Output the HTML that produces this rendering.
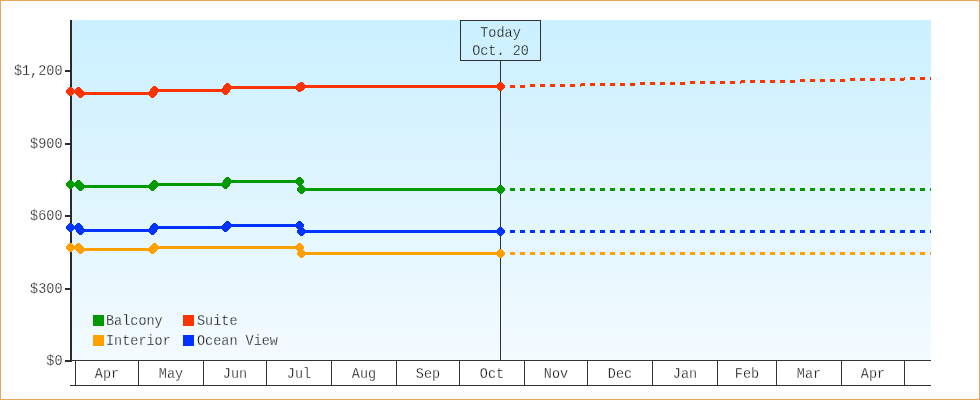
<!DOCTYPE html>
<html><head><meta charset="utf-8"><style>
html,body{margin:0;padding:0;background:#fff;}
svg{display:block;will-change:transform;}
</style></head><body><svg width="980" height="400" viewBox="0 0 980 400"><rect x="0" y="0" width="980" height="400" fill="#fff"/><rect x="72" y="20" width="859" height="1" fill="#cbf0ff"/><rect x="72" y="21" width="859" height="1" fill="#cbf0ff"/><rect x="72" y="22" width="859" height="1" fill="#cbf0ff"/><rect x="72" y="23" width="859" height="1" fill="#cbf0ff"/><rect x="72" y="24" width="859" height="1" fill="#cbf0ff"/><rect x="72" y="25" width="859" height="1" fill="#ccf0ff"/><rect x="72" y="26" width="859" height="1" fill="#ccf0ff"/><rect x="72" y="27" width="859" height="1" fill="#ccf0ff"/><rect x="72" y="28" width="859" height="1" fill="#ccf0ff"/><rect x="72" y="29" width="859" height="1" fill="#ccf0ff"/><rect x="72" y="30" width="859" height="1" fill="#ccf0ff"/><rect x="72" y="31" width="859" height="1" fill="#ccf0ff"/><rect x="72" y="32" width="859" height="1" fill="#ccf0ff"/><rect x="72" y="33" width="859" height="1" fill="#cdf0ff"/><rect x="72" y="34" width="859" height="1" fill="#cdf0ff"/><rect x="72" y="35" width="859" height="1" fill="#cdf0ff"/><rect x="72" y="36" width="859" height="1" fill="#cdf1ff"/><rect x="72" y="37" width="859" height="1" fill="#cdf1ff"/><rect x="72" y="38" width="859" height="1" fill="#cdf1ff"/><rect x="72" y="39" width="859" height="1" fill="#cdf1ff"/><rect x="72" y="40" width="859" height="1" fill="#cdf1ff"/><rect x="72" y="41" width="859" height="1" fill="#cdf1ff"/><rect x="72" y="42" width="859" height="1" fill="#cef1ff"/><rect x="72" y="43" width="859" height="1" fill="#cef1ff"/><rect x="72" y="44" width="859" height="1" fill="#cef1ff"/><rect x="72" y="45" width="859" height="1" fill="#cef1ff"/><rect x="72" y="46" width="859" height="1" fill="#cef1ff"/><rect x="72" y="47" width="859" height="1" fill="#cef1ff"/><rect x="72" y="48" width="859" height="1" fill="#cef1ff"/><rect x="72" y="49" width="859" height="1" fill="#cef1ff"/><rect x="72" y="50" width="859" height="1" fill="#cff1ff"/><rect x="72" y="51" width="859" height="1" fill="#cff1ff"/><rect x="72" y="52" width="859" height="1" fill="#cff1ff"/><rect x="72" y="53" width="859" height="1" fill="#cff1ff"/><rect x="72" y="54" width="859" height="1" fill="#cff1ff"/><rect x="72" y="55" width="859" height="1" fill="#cff1ff"/><rect x="72" y="56" width="859" height="1" fill="#cff1ff"/><rect x="72" y="57" width="859" height="1" fill="#cff1ff"/><rect x="72" y="58" width="859" height="1" fill="#cff1ff"/><rect x="72" y="59" width="859" height="1" fill="#d0f1ff"/><rect x="72" y="60" width="859" height="1" fill="#d0f1ff"/><rect x="72" y="61" width="859" height="1" fill="#d0f1ff"/><rect x="72" y="62" width="859" height="1" fill="#d0f1ff"/><rect x="72" y="63" width="859" height="1" fill="#d0f1ff"/><rect x="72" y="64" width="859" height="1" fill="#d0f1ff"/><rect x="72" y="65" width="859" height="1" fill="#d0f1ff"/><rect x="72" y="66" width="859" height="1" fill="#d0f1ff"/><rect x="72" y="67" width="859" height="1" fill="#d1f2ff"/><rect x="72" y="68" width="859" height="1" fill="#d1f2ff"/><rect x="72" y="69" width="859" height="1" fill="#d1f2ff"/><rect x="72" y="70" width="859" height="1" fill="#d1f2ff"/><rect x="72" y="71" width="859" height="1" fill="#d1f2ff"/><rect x="72" y="72" width="859" height="1" fill="#d1f2ff"/><rect x="72" y="73" width="859" height="1" fill="#d1f2ff"/><rect x="72" y="74" width="859" height="1" fill="#d1f2ff"/><rect x="72" y="75" width="859" height="1" fill="#d1f2ff"/><rect x="72" y="76" width="859" height="1" fill="#d2f2ff"/><rect x="72" y="77" width="859" height="1" fill="#d2f2ff"/><rect x="72" y="78" width="859" height="1" fill="#d2f2ff"/><rect x="72" y="79" width="859" height="1" fill="#d2f2ff"/><rect x="72" y="80" width="859" height="1" fill="#d2f2ff"/><rect x="72" y="81" width="859" height="1" fill="#d2f2ff"/><rect x="72" y="82" width="859" height="1" fill="#d2f2ff"/><rect x="72" y="83" width="859" height="1" fill="#d2f2ff"/><rect x="72" y="84" width="859" height="1" fill="#d3f2ff"/><rect x="72" y="85" width="859" height="1" fill="#d3f2ff"/><rect x="72" y="86" width="859" height="1" fill="#d3f2ff"/><rect x="72" y="87" width="859" height="1" fill="#d3f2ff"/><rect x="72" y="88" width="859" height="1" fill="#d3f2ff"/><rect x="72" y="89" width="859" height="1" fill="#d3f2ff"/><rect x="72" y="90" width="859" height="1" fill="#d3f2ff"/><rect x="72" y="91" width="859" height="1" fill="#d3f2ff"/><rect x="72" y="92" width="859" height="1" fill="#d3f2ff"/><rect x="72" y="93" width="859" height="1" fill="#d4f2ff"/><rect x="72" y="94" width="859" height="1" fill="#d4f2ff"/><rect x="72" y="95" width="859" height="1" fill="#d4f2ff"/><rect x="72" y="96" width="859" height="1" fill="#d4f2ff"/><rect x="72" y="97" width="859" height="1" fill="#d4f2ff"/><rect x="72" y="98" width="859" height="1" fill="#d4f3ff"/><rect x="72" y="99" width="859" height="1" fill="#d4f3ff"/><rect x="72" y="100" width="859" height="1" fill="#d4f3ff"/><rect x="72" y="101" width="859" height="1" fill="#d5f3ff"/><rect x="72" y="102" width="859" height="1" fill="#d5f3ff"/><rect x="72" y="103" width="859" height="1" fill="#d5f3ff"/><rect x="72" y="104" width="859" height="1" fill="#d5f3ff"/><rect x="72" y="105" width="859" height="1" fill="#d5f3ff"/><rect x="72" y="106" width="859" height="1" fill="#d5f3ff"/><rect x="72" y="107" width="859" height="1" fill="#d5f3ff"/><rect x="72" y="108" width="859" height="1" fill="#d5f3ff"/><rect x="72" y="109" width="859" height="1" fill="#d6f3ff"/><rect x="72" y="110" width="859" height="1" fill="#d6f3ff"/><rect x="72" y="111" width="859" height="1" fill="#d6f3ff"/><rect x="72" y="112" width="859" height="1" fill="#d6f3ff"/><rect x="72" y="113" width="859" height="1" fill="#d6f3ff"/><rect x="72" y="114" width="859" height="1" fill="#d6f3ff"/><rect x="72" y="115" width="859" height="1" fill="#d6f3ff"/><rect x="72" y="116" width="859" height="1" fill="#d6f3ff"/><rect x="72" y="117" width="859" height="1" fill="#d6f3ff"/><rect x="72" y="118" width="859" height="1" fill="#d7f3ff"/><rect x="72" y="119" width="859" height="1" fill="#d7f3ff"/><rect x="72" y="120" width="859" height="1" fill="#d7f3ff"/><rect x="72" y="121" width="859" height="1" fill="#d7f3ff"/><rect x="72" y="122" width="859" height="1" fill="#d7f3ff"/><rect x="72" y="123" width="859" height="1" fill="#d7f3ff"/><rect x="72" y="124" width="859" height="1" fill="#d7f3ff"/><rect x="72" y="125" width="859" height="1" fill="#d7f3ff"/><rect x="72" y="126" width="859" height="1" fill="#d8f3ff"/><rect x="72" y="127" width="859" height="1" fill="#d8f3ff"/><rect x="72" y="128" width="859" height="1" fill="#d8f4ff"/><rect x="72" y="129" width="859" height="1" fill="#d8f4ff"/><rect x="72" y="130" width="859" height="1" fill="#d8f4ff"/><rect x="72" y="131" width="859" height="1" fill="#d8f4ff"/><rect x="72" y="132" width="859" height="1" fill="#d8f4ff"/><rect x="72" y="133" width="859" height="1" fill="#d8f4ff"/><rect x="72" y="134" width="859" height="1" fill="#d8f4ff"/><rect x="72" y="135" width="859" height="1" fill="#d9f4ff"/><rect x="72" y="136" width="859" height="1" fill="#d9f4ff"/><rect x="72" y="137" width="859" height="1" fill="#d9f4ff"/><rect x="72" y="138" width="859" height="1" fill="#d9f4ff"/><rect x="72" y="139" width="859" height="1" fill="#d9f4ff"/><rect x="72" y="140" width="859" height="1" fill="#d9f4ff"/><rect x="72" y="141" width="859" height="1" fill="#d9f4ff"/><rect x="72" y="142" width="859" height="1" fill="#d9f4ff"/><rect x="72" y="143" width="859" height="1" fill="#daf4ff"/><rect x="72" y="144" width="859" height="1" fill="#daf4ff"/><rect x="72" y="145" width="859" height="1" fill="#daf4ff"/><rect x="72" y="146" width="859" height="1" fill="#daf4ff"/><rect x="72" y="147" width="859" height="1" fill="#daf4ff"/><rect x="72" y="148" width="859" height="1" fill="#daf4ff"/><rect x="72" y="149" width="859" height="1" fill="#daf4ff"/><rect x="72" y="150" width="859" height="1" fill="#daf4ff"/><rect x="72" y="151" width="859" height="1" fill="#daf4ff"/><rect x="72" y="152" width="859" height="1" fill="#dbf4ff"/><rect x="72" y="153" width="859" height="1" fill="#dbf4ff"/><rect x="72" y="154" width="859" height="1" fill="#dbf4ff"/><rect x="72" y="155" width="859" height="1" fill="#dbf4ff"/><rect x="72" y="156" width="859" height="1" fill="#dbf4ff"/><rect x="72" y="157" width="859" height="1" fill="#dbf4ff"/><rect x="72" y="158" width="859" height="1" fill="#dbf4ff"/><rect x="72" y="159" width="859" height="1" fill="#dbf5ff"/><rect x="72" y="160" width="859" height="1" fill="#dcf5ff"/><rect x="72" y="161" width="859" height="1" fill="#dcf5ff"/><rect x="72" y="162" width="859" height="1" fill="#dcf5ff"/><rect x="72" y="163" width="859" height="1" fill="#dcf5ff"/><rect x="72" y="164" width="859" height="1" fill="#dcf5ff"/><rect x="72" y="165" width="859" height="1" fill="#dcf5ff"/><rect x="72" y="166" width="859" height="1" fill="#dcf5ff"/><rect x="72" y="167" width="859" height="1" fill="#dcf5ff"/><rect x="72" y="168" width="859" height="1" fill="#dcf5ff"/><rect x="72" y="169" width="859" height="1" fill="#ddf5ff"/><rect x="72" y="170" width="859" height="1" fill="#ddf5ff"/><rect x="72" y="171" width="859" height="1" fill="#ddf5ff"/><rect x="72" y="172" width="859" height="1" fill="#ddf5ff"/><rect x="72" y="173" width="859" height="1" fill="#ddf5ff"/><rect x="72" y="174" width="859" height="1" fill="#ddf5ff"/><rect x="72" y="175" width="859" height="1" fill="#ddf5ff"/><rect x="72" y="176" width="859" height="1" fill="#ddf5ff"/><rect x="72" y="177" width="859" height="1" fill="#def5ff"/><rect x="72" y="178" width="859" height="1" fill="#def5ff"/><rect x="72" y="179" width="859" height="1" fill="#def5ff"/><rect x="72" y="180" width="859" height="1" fill="#def5ff"/><rect x="72" y="181" width="859" height="1" fill="#def5ff"/><rect x="72" y="182" width="859" height="1" fill="#def5ff"/><rect x="72" y="183" width="859" height="1" fill="#def5ff"/><rect x="72" y="184" width="859" height="1" fill="#def5ff"/><rect x="72" y="185" width="859" height="1" fill="#def5ff"/><rect x="72" y="186" width="859" height="1" fill="#dff5ff"/><rect x="72" y="187" width="859" height="1" fill="#dff5ff"/><rect x="72" y="188" width="859" height="1" fill="#dff5ff"/><rect x="72" y="189" width="859" height="1" fill="#dff5ff"/><rect x="72" y="190" width="859" height="1" fill="#dff6ff"/><rect x="72" y="191" width="859" height="1" fill="#dff6ff"/><rect x="72" y="192" width="859" height="1" fill="#dff6ff"/><rect x="72" y="193" width="859" height="1" fill="#dff6ff"/><rect x="72" y="194" width="859" height="1" fill="#e0f6ff"/><rect x="72" y="195" width="859" height="1" fill="#e0f6ff"/><rect x="72" y="196" width="859" height="1" fill="#e0f6ff"/><rect x="72" y="197" width="859" height="1" fill="#e0f6ff"/><rect x="72" y="198" width="859" height="1" fill="#e0f6ff"/><rect x="72" y="199" width="859" height="1" fill="#e0f6ff"/><rect x="72" y="200" width="859" height="1" fill="#e0f6ff"/><rect x="72" y="201" width="859" height="1" fill="#e0f6ff"/><rect x="72" y="202" width="859" height="1" fill="#e0f6ff"/><rect x="72" y="203" width="859" height="1" fill="#e1f6ff"/><rect x="72" y="204" width="859" height="1" fill="#e1f6ff"/><rect x="72" y="205" width="859" height="1" fill="#e1f6ff"/><rect x="72" y="206" width="859" height="1" fill="#e1f6ff"/><rect x="72" y="207" width="859" height="1" fill="#e1f6ff"/><rect x="72" y="208" width="859" height="1" fill="#e1f6ff"/><rect x="72" y="209" width="859" height="1" fill="#e1f6ff"/><rect x="72" y="210" width="859" height="1" fill="#e1f6ff"/><rect x="72" y="211" width="859" height="1" fill="#e2f6ff"/><rect x="72" y="212" width="859" height="1" fill="#e2f6ff"/><rect x="72" y="213" width="859" height="1" fill="#e2f6ff"/><rect x="72" y="214" width="859" height="1" fill="#e2f6ff"/><rect x="72" y="215" width="859" height="1" fill="#e2f6ff"/><rect x="72" y="216" width="859" height="1" fill="#e2f6ff"/><rect x="72" y="217" width="859" height="1" fill="#e2f6ff"/><rect x="72" y="218" width="859" height="1" fill="#e2f6ff"/><rect x="72" y="219" width="859" height="1" fill="#e2f6ff"/><rect x="72" y="220" width="859" height="1" fill="#e3f6ff"/><rect x="72" y="221" width="859" height="1" fill="#e3f7ff"/><rect x="72" y="222" width="859" height="1" fill="#e3f7ff"/><rect x="72" y="223" width="859" height="1" fill="#e3f7ff"/><rect x="72" y="224" width="859" height="1" fill="#e3f7ff"/><rect x="72" y="225" width="859" height="1" fill="#e3f7ff"/><rect x="72" y="226" width="859" height="1" fill="#e3f7ff"/><rect x="72" y="227" width="859" height="1" fill="#e3f7ff"/><rect x="72" y="228" width="859" height="1" fill="#e4f7ff"/><rect x="72" y="229" width="859" height="1" fill="#e4f7ff"/><rect x="72" y="230" width="859" height="1" fill="#e4f7ff"/><rect x="72" y="231" width="859" height="1" fill="#e4f7ff"/><rect x="72" y="232" width="859" height="1" fill="#e4f7ff"/><rect x="72" y="233" width="859" height="1" fill="#e4f7ff"/><rect x="72" y="234" width="859" height="1" fill="#e4f7ff"/><rect x="72" y="235" width="859" height="1" fill="#e4f7ff"/><rect x="72" y="236" width="859" height="1" fill="#e4f7ff"/><rect x="72" y="237" width="859" height="1" fill="#e5f7ff"/><rect x="72" y="238" width="859" height="1" fill="#e5f7ff"/><rect x="72" y="239" width="859" height="1" fill="#e5f7ff"/><rect x="72" y="240" width="859" height="1" fill="#e5f7ff"/><rect x="72" y="241" width="859" height="1" fill="#e5f7ff"/><rect x="72" y="242" width="859" height="1" fill="#e5f7ff"/><rect x="72" y="243" width="859" height="1" fill="#e5f7ff"/><rect x="72" y="244" width="859" height="1" fill="#e5f7ff"/><rect x="72" y="245" width="859" height="1" fill="#e6f7ff"/><rect x="72" y="246" width="859" height="1" fill="#e6f7ff"/><rect x="72" y="247" width="859" height="1" fill="#e6f7ff"/><rect x="72" y="248" width="859" height="1" fill="#e6f7ff"/><rect x="72" y="249" width="859" height="1" fill="#e6f7ff"/><rect x="72" y="250" width="859" height="1" fill="#e6f7ff"/><rect x="72" y="251" width="859" height="1" fill="#e6f7ff"/><rect x="72" y="252" width="859" height="1" fill="#e6f8ff"/><rect x="72" y="253" width="859" height="1" fill="#e6f8ff"/><rect x="72" y="254" width="859" height="1" fill="#e7f8ff"/><rect x="72" y="255" width="859" height="1" fill="#e7f8ff"/><rect x="72" y="256" width="859" height="1" fill="#e7f8ff"/><rect x="72" y="257" width="859" height="1" fill="#e7f8ff"/><rect x="72" y="258" width="859" height="1" fill="#e7f8ff"/><rect x="72" y="259" width="859" height="1" fill="#e7f8ff"/><rect x="72" y="260" width="859" height="1" fill="#e7f8ff"/><rect x="72" y="261" width="859" height="1" fill="#e7f8ff"/><rect x="72" y="262" width="859" height="1" fill="#e8f8ff"/><rect x="72" y="263" width="859" height="1" fill="#e8f8ff"/><rect x="72" y="264" width="859" height="1" fill="#e8f8ff"/><rect x="72" y="265" width="859" height="1" fill="#e8f8ff"/><rect x="72" y="266" width="859" height="1" fill="#e8f8ff"/><rect x="72" y="267" width="859" height="1" fill="#e8f8ff"/><rect x="72" y="268" width="859" height="1" fill="#e8f8ff"/><rect x="72" y="269" width="859" height="1" fill="#e8f8ff"/><rect x="72" y="270" width="859" height="1" fill="#e8f8ff"/><rect x="72" y="271" width="859" height="1" fill="#e9f8ff"/><rect x="72" y="272" width="859" height="1" fill="#e9f8ff"/><rect x="72" y="273" width="859" height="1" fill="#e9f8ff"/><rect x="72" y="274" width="859" height="1" fill="#e9f8ff"/><rect x="72" y="275" width="859" height="1" fill="#e9f8ff"/><rect x="72" y="276" width="859" height="1" fill="#e9f8ff"/><rect x="72" y="277" width="859" height="1" fill="#e9f8ff"/><rect x="72" y="278" width="859" height="1" fill="#e9f8ff"/><rect x="72" y="279" width="859" height="1" fill="#eaf8ff"/><rect x="72" y="280" width="859" height="1" fill="#eaf8ff"/><rect x="72" y="281" width="859" height="1" fill="#eaf8ff"/><rect x="72" y="282" width="859" height="1" fill="#eaf9ff"/><rect x="72" y="283" width="859" height="1" fill="#eaf9ff"/><rect x="72" y="284" width="859" height="1" fill="#eaf9ff"/><rect x="72" y="285" width="859" height="1" fill="#eaf9ff"/><rect x="72" y="286" width="859" height="1" fill="#eaf9ff"/><rect x="72" y="287" width="859" height="1" fill="#ebf9ff"/><rect x="72" y="288" width="859" height="1" fill="#ebf9ff"/><rect x="72" y="289" width="859" height="1" fill="#ebf9ff"/><rect x="72" y="290" width="859" height="1" fill="#ebf9ff"/><rect x="72" y="291" width="859" height="1" fill="#ebf9ff"/><rect x="72" y="292" width="859" height="1" fill="#ebf9ff"/><rect x="72" y="293" width="859" height="1" fill="#ebf9ff"/><rect x="72" y="294" width="859" height="1" fill="#ebf9ff"/><rect x="72" y="295" width="859" height="1" fill="#ebf9ff"/><rect x="72" y="296" width="859" height="1" fill="#ecf9ff"/><rect x="72" y="297" width="859" height="1" fill="#ecf9ff"/><rect x="72" y="298" width="859" height="1" fill="#ecf9ff"/><rect x="72" y="299" width="859" height="1" fill="#ecf9ff"/><rect x="72" y="300" width="859" height="1" fill="#ecf9ff"/><rect x="72" y="301" width="859" height="1" fill="#ecf9ff"/><rect x="72" y="302" width="859" height="1" fill="#ecf9ff"/><rect x="72" y="303" width="859" height="1" fill="#ecf9ff"/><rect x="72" y="304" width="859" height="1" fill="#edf9ff"/><rect x="72" y="305" width="859" height="1" fill="#edf9ff"/><rect x="72" y="306" width="859" height="1" fill="#edf9ff"/><rect x="72" y="307" width="859" height="1" fill="#edf9ff"/><rect x="72" y="308" width="859" height="1" fill="#edf9ff"/><rect x="72" y="309" width="859" height="1" fill="#edf9ff"/><rect x="72" y="310" width="859" height="1" fill="#edf9ff"/><rect x="72" y="311" width="859" height="1" fill="#edf9ff"/><rect x="72" y="312" width="859" height="1" fill="#edf9ff"/><rect x="72" y="313" width="859" height="1" fill="#eefaff"/><rect x="72" y="314" width="859" height="1" fill="#eefaff"/><rect x="72" y="315" width="859" height="1" fill="#eefaff"/><rect x="72" y="316" width="859" height="1" fill="#eefaff"/><rect x="72" y="317" width="859" height="1" fill="#eefaff"/><rect x="72" y="318" width="859" height="1" fill="#eefaff"/><rect x="72" y="319" width="859" height="1" fill="#eefaff"/><rect x="72" y="320" width="859" height="1" fill="#eefaff"/><rect x="72" y="321" width="859" height="1" fill="#effaff"/><rect x="72" y="322" width="859" height="1" fill="#effaff"/><rect x="72" y="323" width="859" height="1" fill="#effaff"/><rect x="72" y="324" width="859" height="1" fill="#effaff"/><rect x="72" y="325" width="859" height="1" fill="#effaff"/><rect x="72" y="326" width="859" height="1" fill="#effaff"/><rect x="72" y="327" width="859" height="1" fill="#effaff"/><rect x="72" y="328" width="859" height="1" fill="#effaff"/><rect x="72" y="329" width="859" height="1" fill="#effaff"/><rect x="72" y="330" width="859" height="1" fill="#f0faff"/><rect x="72" y="331" width="859" height="1" fill="#f0faff"/><rect x="72" y="332" width="859" height="1" fill="#f0faff"/><rect x="72" y="333" width="859" height="1" fill="#f0faff"/><rect x="72" y="334" width="859" height="1" fill="#f0faff"/><rect x="72" y="335" width="859" height="1" fill="#f0faff"/><rect x="72" y="336" width="859" height="1" fill="#f0faff"/><rect x="72" y="337" width="859" height="1" fill="#f0faff"/><rect x="72" y="338" width="859" height="1" fill="#f1faff"/><rect x="72" y="339" width="859" height="1" fill="#f1faff"/><rect x="72" y="340" width="859" height="1" fill="#f1faff"/><rect x="72" y="341" width="859" height="1" fill="#f1faff"/><rect x="72" y="342" width="859" height="1" fill="#f1faff"/><rect x="72" y="343" width="859" height="1" fill="#f1faff"/><rect x="72" y="344" width="859" height="1" fill="#f1fbff"/><rect x="72" y="345" width="859" height="1" fill="#f1fbff"/><rect x="72" y="346" width="859" height="1" fill="#f1fbff"/><rect x="72" y="347" width="859" height="1" fill="#f2fbff"/><rect x="72" y="348" width="859" height="1" fill="#f2fbff"/><rect x="72" y="349" width="859" height="1" fill="#f2fbff"/><rect x="72" y="350" width="859" height="1" fill="#f2fbff"/><rect x="72" y="351" width="859" height="1" fill="#f2fbff"/><rect x="72" y="352" width="859" height="1" fill="#f2fbff"/><rect x="72" y="353" width="859" height="1" fill="#f2fbff"/><rect x="72" y="354" width="859" height="1" fill="#f2fbff"/><rect x="72" y="355" width="859" height="1" fill="#f3fbff"/><rect x="72" y="356" width="859" height="1" fill="#f3fbff"/><rect x="72" y="357" width="859" height="1" fill="#f3fbff"/><rect x="72" y="358" width="859" height="1" fill="#f3fbff"/><rect x="72" y="359" width="859" height="1" fill="#f3fbff"/><rect x="500" y="60" width="1" height="300" fill="#333"/><rect x="70" y="20" width="2" height="342" fill="#2b2b2b"/><path d="M70.50 91.50 L78.50 91.50 L80.50 93.50 L152.50 93.50 L154.50 90.50 L225.50 90.50 L227.50 87.50 L299.50 87.50 L301.50 86.50 L500.50 86.50" fill="none" stroke="#ff3300" stroke-width="3" stroke-linejoin="round"/><rect x="510" y="85" width="5" height="3" fill="#ff3300"/><rect x="520" y="85" width="5" height="3" fill="#ff3300"/><rect x="530" y="84" width="5" height="3" fill="#ff3300"/><rect x="540" y="84" width="5" height="3" fill="#ff3300"/><rect x="550" y="84" width="5" height="3" fill="#ff3300"/><rect x="560" y="84" width="5" height="3" fill="#ff3300"/><rect x="570" y="84" width="5" height="3" fill="#ff3300"/><rect x="580" y="84" width="1" height="3" fill="#ff3300"/><rect x="581" y="83" width="4" height="3" fill="#ff3300"/><rect x="590" y="83" width="5" height="3" fill="#ff3300"/><rect x="600" y="83" width="5" height="3" fill="#ff3300"/><rect x="610" y="83" width="5" height="3" fill="#ff3300"/><rect x="620" y="83" width="5" height="3" fill="#ff3300"/><rect x="630" y="83" width="5" height="3" fill="#ff3300"/><rect x="640" y="82" width="5" height="3" fill="#ff3300"/><rect x="650" y="82" width="5" height="3" fill="#ff3300"/><rect x="660" y="82" width="5" height="3" fill="#ff3300"/><rect x="670" y="82" width="5" height="3" fill="#ff3300"/><rect x="680" y="82" width="5" height="3" fill="#ff3300"/><rect x="690" y="81" width="5" height="3" fill="#ff3300"/><rect x="700" y="81" width="5" height="3" fill="#ff3300"/><rect x="710" y="81" width="5" height="3" fill="#ff3300"/><rect x="720" y="81" width="5" height="3" fill="#ff3300"/><rect x="730" y="81" width="5" height="3" fill="#ff3300"/><rect x="740" y="81" width="1" height="3" fill="#ff3300"/><rect x="741" y="80" width="4" height="3" fill="#ff3300"/><rect x="750" y="80" width="5" height="3" fill="#ff3300"/><rect x="760" y="80" width="5" height="3" fill="#ff3300"/><rect x="770" y="80" width="5" height="3" fill="#ff3300"/><rect x="780" y="80" width="5" height="3" fill="#ff3300"/><rect x="790" y="80" width="5" height="3" fill="#ff3300"/><rect x="800" y="79" width="5" height="3" fill="#ff3300"/><rect x="810" y="79" width="5" height="3" fill="#ff3300"/><rect x="820" y="79" width="5" height="3" fill="#ff3300"/><rect x="830" y="79" width="5" height="3" fill="#ff3300"/><rect x="840" y="79" width="5" height="3" fill="#ff3300"/><rect x="850" y="78" width="5" height="3" fill="#ff3300"/><rect x="860" y="78" width="5" height="3" fill="#ff3300"/><rect x="870" y="78" width="5" height="3" fill="#ff3300"/><rect x="880" y="78" width="5" height="3" fill="#ff3300"/><rect x="890" y="78" width="5" height="3" fill="#ff3300"/><rect x="900" y="78" width="4" height="3" fill="#ff3300"/><rect x="904" y="77" width="1" height="3" fill="#ff3300"/><rect x="910" y="77" width="5" height="3" fill="#ff3300"/><rect x="920" y="77" width="5" height="3" fill="#ff3300"/><rect x="930" y="77" width="1" height="3" fill="#ff3300"/><path d="M70.50 184.50 L78.50 184.50 L80.50 186.50 L152.50 186.50 L154.50 184.50 L225.50 184.50 L227.50 181.50 L299.50 181.50 L301.50 189.50 L500.50 189.50" fill="none" stroke="#009900" stroke-width="3" stroke-linejoin="round"/><rect x="510" y="188" width="5" height="3" fill="#009900"/><rect x="520" y="188" width="5" height="3" fill="#009900"/><rect x="530" y="188" width="5" height="3" fill="#009900"/><rect x="540" y="188" width="5" height="3" fill="#009900"/><rect x="550" y="188" width="5" height="3" fill="#009900"/><rect x="560" y="188" width="5" height="3" fill="#009900"/><rect x="570" y="188" width="5" height="3" fill="#009900"/><rect x="580" y="188" width="5" height="3" fill="#009900"/><rect x="590" y="188" width="5" height="3" fill="#009900"/><rect x="600" y="188" width="5" height="3" fill="#009900"/><rect x="610" y="188" width="5" height="3" fill="#009900"/><rect x="620" y="188" width="5" height="3" fill="#009900"/><rect x="630" y="188" width="5" height="3" fill="#009900"/><rect x="640" y="188" width="5" height="3" fill="#009900"/><rect x="650" y="188" width="5" height="3" fill="#009900"/><rect x="660" y="188" width="5" height="3" fill="#009900"/><rect x="670" y="188" width="5" height="3" fill="#009900"/><rect x="680" y="188" width="5" height="3" fill="#009900"/><rect x="690" y="188" width="5" height="3" fill="#009900"/><rect x="700" y="188" width="5" height="3" fill="#009900"/><rect x="710" y="188" width="5" height="3" fill="#009900"/><rect x="720" y="188" width="5" height="3" fill="#009900"/><rect x="730" y="188" width="5" height="3" fill="#009900"/><rect x="740" y="188" width="5" height="3" fill="#009900"/><rect x="750" y="188" width="5" height="3" fill="#009900"/><rect x="760" y="188" width="5" height="3" fill="#009900"/><rect x="770" y="188" width="5" height="3" fill="#009900"/><rect x="780" y="188" width="5" height="3" fill="#009900"/><rect x="790" y="188" width="5" height="3" fill="#009900"/><rect x="800" y="188" width="5" height="3" fill="#009900"/><rect x="810" y="188" width="5" height="3" fill="#009900"/><rect x="820" y="188" width="5" height="3" fill="#009900"/><rect x="830" y="188" width="5" height="3" fill="#009900"/><rect x="840" y="188" width="5" height="3" fill="#009900"/><rect x="850" y="188" width="5" height="3" fill="#009900"/><rect x="860" y="188" width="5" height="3" fill="#009900"/><rect x="870" y="188" width="5" height="3" fill="#009900"/><rect x="880" y="188" width="5" height="3" fill="#009900"/><rect x="890" y="188" width="5" height="3" fill="#009900"/><rect x="900" y="188" width="5" height="3" fill="#009900"/><rect x="910" y="188" width="5" height="3" fill="#009900"/><rect x="920" y="188" width="5" height="3" fill="#009900"/><rect x="930" y="188" width="1" height="3" fill="#009900"/><path d="M70.50 227.50 L78.50 227.50 L80.50 230.50 L152.50 230.50 L154.50 227.50 L225.50 227.50 L227.50 225.50 L299.50 225.50 L301.50 231.50 L500.50 231.50" fill="none" stroke="#0033ff" stroke-width="3" stroke-linejoin="round"/><rect x="510" y="230" width="5" height="3" fill="#0033ff"/><rect x="520" y="230" width="5" height="3" fill="#0033ff"/><rect x="530" y="230" width="5" height="3" fill="#0033ff"/><rect x="540" y="230" width="5" height="3" fill="#0033ff"/><rect x="550" y="230" width="5" height="3" fill="#0033ff"/><rect x="560" y="230" width="5" height="3" fill="#0033ff"/><rect x="570" y="230" width="5" height="3" fill="#0033ff"/><rect x="580" y="230" width="5" height="3" fill="#0033ff"/><rect x="590" y="230" width="5" height="3" fill="#0033ff"/><rect x="600" y="230" width="5" height="3" fill="#0033ff"/><rect x="610" y="230" width="5" height="3" fill="#0033ff"/><rect x="620" y="230" width="5" height="3" fill="#0033ff"/><rect x="630" y="230" width="5" height="3" fill="#0033ff"/><rect x="640" y="230" width="5" height="3" fill="#0033ff"/><rect x="650" y="230" width="5" height="3" fill="#0033ff"/><rect x="660" y="230" width="5" height="3" fill="#0033ff"/><rect x="670" y="230" width="5" height="3" fill="#0033ff"/><rect x="680" y="230" width="5" height="3" fill="#0033ff"/><rect x="690" y="230" width="5" height="3" fill="#0033ff"/><rect x="700" y="230" width="5" height="3" fill="#0033ff"/><rect x="710" y="230" width="5" height="3" fill="#0033ff"/><rect x="720" y="230" width="5" height="3" fill="#0033ff"/><rect x="730" y="230" width="5" height="3" fill="#0033ff"/><rect x="740" y="230" width="5" height="3" fill="#0033ff"/><rect x="750" y="230" width="5" height="3" fill="#0033ff"/><rect x="760" y="230" width="5" height="3" fill="#0033ff"/><rect x="770" y="230" width="5" height="3" fill="#0033ff"/><rect x="780" y="230" width="5" height="3" fill="#0033ff"/><rect x="790" y="230" width="5" height="3" fill="#0033ff"/><rect x="800" y="230" width="5" height="3" fill="#0033ff"/><rect x="810" y="230" width="5" height="3" fill="#0033ff"/><rect x="820" y="230" width="5" height="3" fill="#0033ff"/><rect x="830" y="230" width="5" height="3" fill="#0033ff"/><rect x="840" y="230" width="5" height="3" fill="#0033ff"/><rect x="850" y="230" width="5" height="3" fill="#0033ff"/><rect x="860" y="230" width="5" height="3" fill="#0033ff"/><rect x="870" y="230" width="5" height="3" fill="#0033ff"/><rect x="880" y="230" width="5" height="3" fill="#0033ff"/><rect x="890" y="230" width="5" height="3" fill="#0033ff"/><rect x="900" y="230" width="5" height="3" fill="#0033ff"/><rect x="910" y="230" width="5" height="3" fill="#0033ff"/><rect x="920" y="230" width="5" height="3" fill="#0033ff"/><rect x="930" y="230" width="1" height="3" fill="#0033ff"/><path d="M70.50 247.50 L78.50 247.50 L80.50 249.50 L152.50 249.50 L154.50 247.50 L225.50 247.50 L227.50 247.50 L299.50 247.50 L301.50 253.50 L500.50 253.50" fill="none" stroke="#ffa000" stroke-width="3" stroke-linejoin="round"/><rect x="510" y="252" width="5" height="3" fill="#ffa000"/><rect x="520" y="252" width="5" height="3" fill="#ffa000"/><rect x="530" y="252" width="5" height="3" fill="#ffa000"/><rect x="540" y="252" width="5" height="3" fill="#ffa000"/><rect x="550" y="252" width="5" height="3" fill="#ffa000"/><rect x="560" y="252" width="5" height="3" fill="#ffa000"/><rect x="570" y="252" width="5" height="3" fill="#ffa000"/><rect x="580" y="252" width="5" height="3" fill="#ffa000"/><rect x="590" y="252" width="5" height="3" fill="#ffa000"/><rect x="600" y="252" width="5" height="3" fill="#ffa000"/><rect x="610" y="252" width="5" height="3" fill="#ffa000"/><rect x="620" y="252" width="5" height="3" fill="#ffa000"/><rect x="630" y="252" width="5" height="3" fill="#ffa000"/><rect x="640" y="252" width="5" height="3" fill="#ffa000"/><rect x="650" y="252" width="5" height="3" fill="#ffa000"/><rect x="660" y="252" width="5" height="3" fill="#ffa000"/><rect x="670" y="252" width="5" height="3" fill="#ffa000"/><rect x="680" y="252" width="5" height="3" fill="#ffa000"/><rect x="690" y="252" width="5" height="3" fill="#ffa000"/><rect x="700" y="252" width="5" height="3" fill="#ffa000"/><rect x="710" y="252" width="5" height="3" fill="#ffa000"/><rect x="720" y="252" width="5" height="3" fill="#ffa000"/><rect x="730" y="252" width="5" height="3" fill="#ffa000"/><rect x="740" y="252" width="5" height="3" fill="#ffa000"/><rect x="750" y="252" width="5" height="3" fill="#ffa000"/><rect x="760" y="252" width="5" height="3" fill="#ffa000"/><rect x="770" y="252" width="5" height="3" fill="#ffa000"/><rect x="780" y="252" width="5" height="3" fill="#ffa000"/><rect x="790" y="252" width="5" height="3" fill="#ffa000"/><rect x="800" y="252" width="5" height="3" fill="#ffa000"/><rect x="810" y="252" width="5" height="3" fill="#ffa000"/><rect x="820" y="252" width="5" height="3" fill="#ffa000"/><rect x="830" y="252" width="5" height="3" fill="#ffa000"/><rect x="840" y="252" width="5" height="3" fill="#ffa000"/><rect x="850" y="252" width="5" height="3" fill="#ffa000"/><rect x="860" y="252" width="5" height="3" fill="#ffa000"/><rect x="870" y="252" width="5" height="3" fill="#ffa000"/><rect x="880" y="252" width="5" height="3" fill="#ffa000"/><rect x="890" y="252" width="5" height="3" fill="#ffa000"/><rect x="900" y="252" width="5" height="3" fill="#ffa000"/><rect x="910" y="252" width="5" height="3" fill="#ffa000"/><rect x="920" y="252" width="5" height="3" fill="#ffa000"/><rect x="930" y="252" width="1" height="3" fill="#ffa000"/><path d="M69 87h3v1h-3zM68 88h5v1h-5zM67 89h7v1h-7zM66 90h9v1h-9zM66 91h9v1h-9zM66 92h9v1h-9zM67 93h7v1h-7zM68 94h5v1h-5zM69 95h3v1h-3z" fill="#ff3300" shape-rendering="crispEdges"/><path d="M77 87h3v1h-3zM76 88h5v1h-5zM75 89h7v1h-7zM74 90h9v1h-9zM74 91h9v1h-9zM74 92h9v1h-9zM75 93h7v1h-7zM76 94h5v1h-5zM77 95h3v1h-3z" fill="#ff3300" shape-rendering="crispEdges"/><path d="M79 89h3v1h-3zM78 90h5v1h-5zM77 91h7v1h-7zM76 92h9v1h-9zM76 93h9v1h-9zM76 94h9v1h-9zM77 95h7v1h-7zM78 96h5v1h-5zM79 97h3v1h-3z" fill="#ff3300" shape-rendering="crispEdges"/><path d="M151 89h3v1h-3zM150 90h5v1h-5zM149 91h7v1h-7zM148 92h9v1h-9zM148 93h9v1h-9zM148 94h9v1h-9zM149 95h7v1h-7zM150 96h5v1h-5zM151 97h3v1h-3z" fill="#ff3300" shape-rendering="crispEdges"/><path d="M153 86h3v1h-3zM152 87h5v1h-5zM151 88h7v1h-7zM150 89h9v1h-9zM150 90h9v1h-9zM150 91h9v1h-9zM151 92h7v1h-7zM152 93h5v1h-5zM153 94h3v1h-3z" fill="#ff3300" shape-rendering="crispEdges"/><path d="M224 86h3v1h-3zM223 87h5v1h-5zM222 88h7v1h-7zM221 89h9v1h-9zM221 90h9v1h-9zM221 91h9v1h-9zM222 92h7v1h-7zM223 93h5v1h-5zM224 94h3v1h-3z" fill="#ff3300" shape-rendering="crispEdges"/><path d="M226 83h3v1h-3zM225 84h5v1h-5zM224 85h7v1h-7zM223 86h9v1h-9zM223 87h9v1h-9zM223 88h9v1h-9zM224 89h7v1h-7zM225 90h5v1h-5zM226 91h3v1h-3z" fill="#ff3300" shape-rendering="crispEdges"/><path d="M298 83h3v1h-3zM297 84h5v1h-5zM296 85h7v1h-7zM295 86h9v1h-9zM295 87h9v1h-9zM295 88h9v1h-9zM296 89h7v1h-7zM297 90h5v1h-5zM298 91h3v1h-3z" fill="#ff3300" shape-rendering="crispEdges"/><path d="M300 82h3v1h-3zM299 83h5v1h-5zM298 84h7v1h-7zM297 85h9v1h-9zM297 86h9v1h-9zM297 87h9v1h-9zM298 88h7v1h-7zM299 89h5v1h-5zM300 90h3v1h-3z" fill="#ff3300" shape-rendering="crispEdges"/><path d="M499 82h3v1h-3zM498 83h5v1h-5zM497 84h7v1h-7zM496 85h9v1h-9zM496 86h9v1h-9zM496 87h9v1h-9zM497 88h7v1h-7zM498 89h5v1h-5zM499 90h3v1h-3z" fill="#ff3300" shape-rendering="crispEdges"/><path d="M69 180h3v1h-3zM68 181h5v1h-5zM67 182h7v1h-7zM66 183h9v1h-9zM66 184h9v1h-9zM66 185h9v1h-9zM67 186h7v1h-7zM68 187h5v1h-5zM69 188h3v1h-3z" fill="#009900" shape-rendering="crispEdges"/><path d="M77 180h3v1h-3zM76 181h5v1h-5zM75 182h7v1h-7zM74 183h9v1h-9zM74 184h9v1h-9zM74 185h9v1h-9zM75 186h7v1h-7zM76 187h5v1h-5zM77 188h3v1h-3z" fill="#009900" shape-rendering="crispEdges"/><path d="M79 182h3v1h-3zM78 183h5v1h-5zM77 184h7v1h-7zM76 185h9v1h-9zM76 186h9v1h-9zM76 187h9v1h-9zM77 188h7v1h-7zM78 189h5v1h-5zM79 190h3v1h-3z" fill="#009900" shape-rendering="crispEdges"/><path d="M151 182h3v1h-3zM150 183h5v1h-5zM149 184h7v1h-7zM148 185h9v1h-9zM148 186h9v1h-9zM148 187h9v1h-9zM149 188h7v1h-7zM150 189h5v1h-5zM151 190h3v1h-3z" fill="#009900" shape-rendering="crispEdges"/><path d="M153 180h3v1h-3zM152 181h5v1h-5zM151 182h7v1h-7zM150 183h9v1h-9zM150 184h9v1h-9zM150 185h9v1h-9zM151 186h7v1h-7zM152 187h5v1h-5zM153 188h3v1h-3z" fill="#009900" shape-rendering="crispEdges"/><path d="M224 180h3v1h-3zM223 181h5v1h-5zM222 182h7v1h-7zM221 183h9v1h-9zM221 184h9v1h-9zM221 185h9v1h-9zM222 186h7v1h-7zM223 187h5v1h-5zM224 188h3v1h-3z" fill="#009900" shape-rendering="crispEdges"/><path d="M226 177h3v1h-3zM225 178h5v1h-5zM224 179h7v1h-7zM223 180h9v1h-9zM223 181h9v1h-9zM223 182h9v1h-9zM224 183h7v1h-7zM225 184h5v1h-5zM226 185h3v1h-3z" fill="#009900" shape-rendering="crispEdges"/><path d="M298 177h3v1h-3zM297 178h5v1h-5zM296 179h7v1h-7zM295 180h9v1h-9zM295 181h9v1h-9zM295 182h9v1h-9zM296 183h7v1h-7zM297 184h5v1h-5zM298 185h3v1h-3z" fill="#009900" shape-rendering="crispEdges"/><path d="M300 185h3v1h-3zM299 186h5v1h-5zM298 187h7v1h-7zM297 188h9v1h-9zM297 189h9v1h-9zM297 190h9v1h-9zM298 191h7v1h-7zM299 192h5v1h-5zM300 193h3v1h-3z" fill="#009900" shape-rendering="crispEdges"/><path d="M499 185h3v1h-3zM498 186h5v1h-5zM497 187h7v1h-7zM496 188h9v1h-9zM496 189h9v1h-9zM496 190h9v1h-9zM497 191h7v1h-7zM498 192h5v1h-5zM499 193h3v1h-3z" fill="#009900" shape-rendering="crispEdges"/><path d="M69 223h3v1h-3zM68 224h5v1h-5zM67 225h7v1h-7zM66 226h9v1h-9zM66 227h9v1h-9zM66 228h9v1h-9zM67 229h7v1h-7zM68 230h5v1h-5zM69 231h3v1h-3z" fill="#0033ff" shape-rendering="crispEdges"/><path d="M77 223h3v1h-3zM76 224h5v1h-5zM75 225h7v1h-7zM74 226h9v1h-9zM74 227h9v1h-9zM74 228h9v1h-9zM75 229h7v1h-7zM76 230h5v1h-5zM77 231h3v1h-3z" fill="#0033ff" shape-rendering="crispEdges"/><path d="M79 226h3v1h-3zM78 227h5v1h-5zM77 228h7v1h-7zM76 229h9v1h-9zM76 230h9v1h-9zM76 231h9v1h-9zM77 232h7v1h-7zM78 233h5v1h-5zM79 234h3v1h-3z" fill="#0033ff" shape-rendering="crispEdges"/><path d="M151 226h3v1h-3zM150 227h5v1h-5zM149 228h7v1h-7zM148 229h9v1h-9zM148 230h9v1h-9zM148 231h9v1h-9zM149 232h7v1h-7zM150 233h5v1h-5zM151 234h3v1h-3z" fill="#0033ff" shape-rendering="crispEdges"/><path d="M153 223h3v1h-3zM152 224h5v1h-5zM151 225h7v1h-7zM150 226h9v1h-9zM150 227h9v1h-9zM150 228h9v1h-9zM151 229h7v1h-7zM152 230h5v1h-5zM153 231h3v1h-3z" fill="#0033ff" shape-rendering="crispEdges"/><path d="M224 223h3v1h-3zM223 224h5v1h-5zM222 225h7v1h-7zM221 226h9v1h-9zM221 227h9v1h-9zM221 228h9v1h-9zM222 229h7v1h-7zM223 230h5v1h-5zM224 231h3v1h-3z" fill="#0033ff" shape-rendering="crispEdges"/><path d="M226 221h3v1h-3zM225 222h5v1h-5zM224 223h7v1h-7zM223 224h9v1h-9zM223 225h9v1h-9zM223 226h9v1h-9zM224 227h7v1h-7zM225 228h5v1h-5zM226 229h3v1h-3z" fill="#0033ff" shape-rendering="crispEdges"/><path d="M298 221h3v1h-3zM297 222h5v1h-5zM296 223h7v1h-7zM295 224h9v1h-9zM295 225h9v1h-9zM295 226h9v1h-9zM296 227h7v1h-7zM297 228h5v1h-5zM298 229h3v1h-3z" fill="#0033ff" shape-rendering="crispEdges"/><path d="M300 227h3v1h-3zM299 228h5v1h-5zM298 229h7v1h-7zM297 230h9v1h-9zM297 231h9v1h-9zM297 232h9v1h-9zM298 233h7v1h-7zM299 234h5v1h-5zM300 235h3v1h-3z" fill="#0033ff" shape-rendering="crispEdges"/><path d="M499 227h3v1h-3zM498 228h5v1h-5zM497 229h7v1h-7zM496 230h9v1h-9zM496 231h9v1h-9zM496 232h9v1h-9zM497 233h7v1h-7zM498 234h5v1h-5zM499 235h3v1h-3z" fill="#0033ff" shape-rendering="crispEdges"/><path d="M69 243h3v1h-3zM68 244h5v1h-5zM67 245h7v1h-7zM66 246h9v1h-9zM66 247h9v1h-9zM66 248h9v1h-9zM67 249h7v1h-7zM68 250h5v1h-5zM69 251h3v1h-3z" fill="#ffa000" shape-rendering="crispEdges"/><path d="M77 243h3v1h-3zM76 244h5v1h-5zM75 245h7v1h-7zM74 246h9v1h-9zM74 247h9v1h-9zM74 248h9v1h-9zM75 249h7v1h-7zM76 250h5v1h-5zM77 251h3v1h-3z" fill="#ffa000" shape-rendering="crispEdges"/><path d="M79 245h3v1h-3zM78 246h5v1h-5zM77 247h7v1h-7zM76 248h9v1h-9zM76 249h9v1h-9zM76 250h9v1h-9zM77 251h7v1h-7zM78 252h5v1h-5zM79 253h3v1h-3z" fill="#ffa000" shape-rendering="crispEdges"/><path d="M151 245h3v1h-3zM150 246h5v1h-5zM149 247h7v1h-7zM148 248h9v1h-9zM148 249h9v1h-9zM148 250h9v1h-9zM149 251h7v1h-7zM150 252h5v1h-5zM151 253h3v1h-3z" fill="#ffa000" shape-rendering="crispEdges"/><path d="M153 243h3v1h-3zM152 244h5v1h-5zM151 245h7v1h-7zM150 246h9v1h-9zM150 247h9v1h-9zM150 248h9v1h-9zM151 249h7v1h-7zM152 250h5v1h-5zM153 251h3v1h-3z" fill="#ffa000" shape-rendering="crispEdges"/><path d="M298 243h3v1h-3zM297 244h5v1h-5zM296 245h7v1h-7zM295 246h9v1h-9zM295 247h9v1h-9zM295 248h9v1h-9zM296 249h7v1h-7zM297 250h5v1h-5zM298 251h3v1h-3z" fill="#ffa000" shape-rendering="crispEdges"/><path d="M300 249h3v1h-3zM299 250h5v1h-5zM298 251h7v1h-7zM297 252h9v1h-9zM297 253h9v1h-9zM297 254h9v1h-9zM298 255h7v1h-7zM299 256h5v1h-5zM300 257h3v1h-3z" fill="#ffa000" shape-rendering="crispEdges"/><path d="M499 249h3v1h-3zM498 250h5v1h-5zM497 251h7v1h-7zM496 252h9v1h-9zM496 253h9v1h-9zM496 254h9v1h-9zM497 255h7v1h-7zM498 256h5v1h-5zM499 257h3v1h-3z" fill="#ffa000" shape-rendering="crispEdges"/><rect x="460.5" y="20.5" width="80" height="40" fill="none" stroke="#333" stroke-width="1"/><g transform="translate(500.5,37) scale(1,1.11)"><text x="0" y="0" text-anchor="middle" font-family='"Liberation Mono", monospace' font-size="13.5" fill="#111" stroke="#cdf0ff" stroke-width="0.25">Today</text></g><g transform="translate(500.5,55) scale(1,1.11)"><text x="0" y="0" text-anchor="middle" font-family='"Liberation Mono", monospace' font-size="13.5" fill="#111" stroke="#cff1ff" stroke-width="0.25">Oct. 20</text></g><rect x="65" y="70" width="6" height="2" fill="#2b2b2b"/><g transform="translate(62.5,75) scale(1,1.11)"><text x="0" y="0" text-anchor="end" font-family='"Liberation Mono", monospace' font-size="13.5" fill="#111" stroke="#ffffff" stroke-width="0.25">$1,200</text></g><rect x="65" y="143" width="6" height="2" fill="#2b2b2b"/><g transform="translate(62.5,148) scale(1,1.11)"><text x="0" y="0" text-anchor="end" font-family='"Liberation Mono", monospace' font-size="13.5" fill="#111" stroke="#ffffff" stroke-width="0.25">$900</text></g><rect x="65" y="215" width="6" height="2" fill="#2b2b2b"/><g transform="translate(62.5,220) scale(1,1.11)"><text x="0" y="0" text-anchor="end" font-family='"Liberation Mono", monospace' font-size="13.5" fill="#111" stroke="#ffffff" stroke-width="0.25">$600</text></g><rect x="65" y="288" width="6" height="2" fill="#2b2b2b"/><g transform="translate(62.5,293) scale(1,1.11)"><text x="0" y="0" text-anchor="end" font-family='"Liberation Mono", monospace' font-size="13.5" fill="#111" stroke="#ffffff" stroke-width="0.25">$300</text></g><rect x="65" y="360" width="6" height="2" fill="#2b2b2b"/><g transform="translate(62.5,365) scale(1,1.11)"><text x="0" y="0" text-anchor="end" font-family='"Liberation Mono", monospace' font-size="13.5" fill="#111" stroke="#ffffff" stroke-width="0.25">$0</text></g><rect x="70" y="360" width="861" height="1" fill="#333"/><rect x="70" y="385" width="861" height="1" fill="#333"/><rect x="75" y="360" width="1" height="26" fill="#333"/><rect x="138" y="360" width="1" height="26" fill="#333"/><rect x="203" y="360" width="1" height="26" fill="#333"/><rect x="266" y="360" width="1" height="26" fill="#333"/><rect x="331" y="360" width="1" height="26" fill="#333"/><rect x="396" y="360" width="1" height="26" fill="#333"/><rect x="459" y="360" width="1" height="26" fill="#333"/><rect x="524" y="360" width="1" height="26" fill="#333"/><rect x="587" y="360" width="1" height="26" fill="#333"/><rect x="652" y="360" width="1" height="26" fill="#333"/><rect x="717" y="360" width="1" height="26" fill="#333"/><rect x="776" y="360" width="1" height="26" fill="#333"/><rect x="841" y="360" width="1" height="26" fill="#333"/><rect x="904" y="360" width="1" height="26" fill="#333"/><g transform="translate(107.0,378) scale(1,1.11)"><text x="0" y="0" text-anchor="middle" font-family='"Liberation Mono", monospace' font-size="13.5" fill="#111" stroke="#ffffff" stroke-width="0.25">Apr</text></g><g transform="translate(171.0,378) scale(1,1.11)"><text x="0" y="0" text-anchor="middle" font-family='"Liberation Mono", monospace' font-size="13.5" fill="#111" stroke="#ffffff" stroke-width="0.25">May</text></g><g transform="translate(235.0,378) scale(1,1.11)"><text x="0" y="0" text-anchor="middle" font-family='"Liberation Mono", monospace' font-size="13.5" fill="#111" stroke="#ffffff" stroke-width="0.25">Jun</text></g><g transform="translate(299.0,378) scale(1,1.11)"><text x="0" y="0" text-anchor="middle" font-family='"Liberation Mono", monospace' font-size="13.5" fill="#111" stroke="#ffffff" stroke-width="0.25">Jul</text></g><g transform="translate(364.0,378) scale(1,1.11)"><text x="0" y="0" text-anchor="middle" font-family='"Liberation Mono", monospace' font-size="13.5" fill="#111" stroke="#ffffff" stroke-width="0.25">Aug</text></g><g transform="translate(428.0,378) scale(1,1.11)"><text x="0" y="0" text-anchor="middle" font-family='"Liberation Mono", monospace' font-size="13.5" fill="#111" stroke="#ffffff" stroke-width="0.25">Sep</text></g><g transform="translate(492.0,378) scale(1,1.11)"><text x="0" y="0" text-anchor="middle" font-family='"Liberation Mono", monospace' font-size="13.5" fill="#111" stroke="#ffffff" stroke-width="0.25">Oct</text></g><g transform="translate(556.0,378) scale(1,1.11)"><text x="0" y="0" text-anchor="middle" font-family='"Liberation Mono", monospace' font-size="13.5" fill="#111" stroke="#ffffff" stroke-width="0.25">Nov</text></g><g transform="translate(620.0,378) scale(1,1.11)"><text x="0" y="0" text-anchor="middle" font-family='"Liberation Mono", monospace' font-size="13.5" fill="#111" stroke="#ffffff" stroke-width="0.25">Dec</text></g><g transform="translate(685.0,378) scale(1,1.11)"><text x="0" y="0" text-anchor="middle" font-family='"Liberation Mono", monospace' font-size="13.5" fill="#111" stroke="#ffffff" stroke-width="0.25">Jan</text></g><g transform="translate(747.0,378) scale(1,1.11)"><text x="0" y="0" text-anchor="middle" font-family='"Liberation Mono", monospace' font-size="13.5" fill="#111" stroke="#ffffff" stroke-width="0.25">Feb</text></g><g transform="translate(809.0,378) scale(1,1.11)"><text x="0" y="0" text-anchor="middle" font-family='"Liberation Mono", monospace' font-size="13.5" fill="#111" stroke="#ffffff" stroke-width="0.25">Mar</text></g><g transform="translate(873.0,378) scale(1,1.11)"><text x="0" y="0" text-anchor="middle" font-family='"Liberation Mono", monospace' font-size="13.5" fill="#111" stroke="#ffffff" stroke-width="0.25">Apr</text></g><rect x="93" y="315" width="11" height="11" fill="#009900"/><g transform="translate(106,325) scale(1,1.11)"><text x="0" y="0" text-anchor="start" font-family='"Liberation Mono", monospace' font-size="13.5" fill="#111" stroke="#eef9ff" stroke-width="0.25">Balcony</text></g><rect x="183" y="315" width="11" height="11" fill="#ff3300"/><g transform="translate(197,325) scale(1,1.11)"><text x="0" y="0" text-anchor="start" font-family='"Liberation Mono", monospace' font-size="13.5" fill="#111" stroke="#eef9ff" stroke-width="0.25">Suite</text></g><rect x="93" y="335" width="11" height="11" fill="#ffa000"/><g transform="translate(106,345) scale(1,1.11)"><text x="0" y="0" text-anchor="start" font-family='"Liberation Mono", monospace' font-size="13.5" fill="#111" stroke="#eef9ff" stroke-width="0.25">Interior</text></g><rect x="183" y="335" width="11" height="11" fill="#0033ff"/><g transform="translate(197,345) scale(1,1.11)"><text x="0" y="0" text-anchor="start" font-family='"Liberation Mono", monospace' font-size="13.5" fill="#111" stroke="#eef9ff" stroke-width="0.25">Ocean View</text></g><rect x="0.5" y="0.5" width="979" height="399" fill="none" stroke="#e9a55c" stroke-width="1"/></svg></body></html>
